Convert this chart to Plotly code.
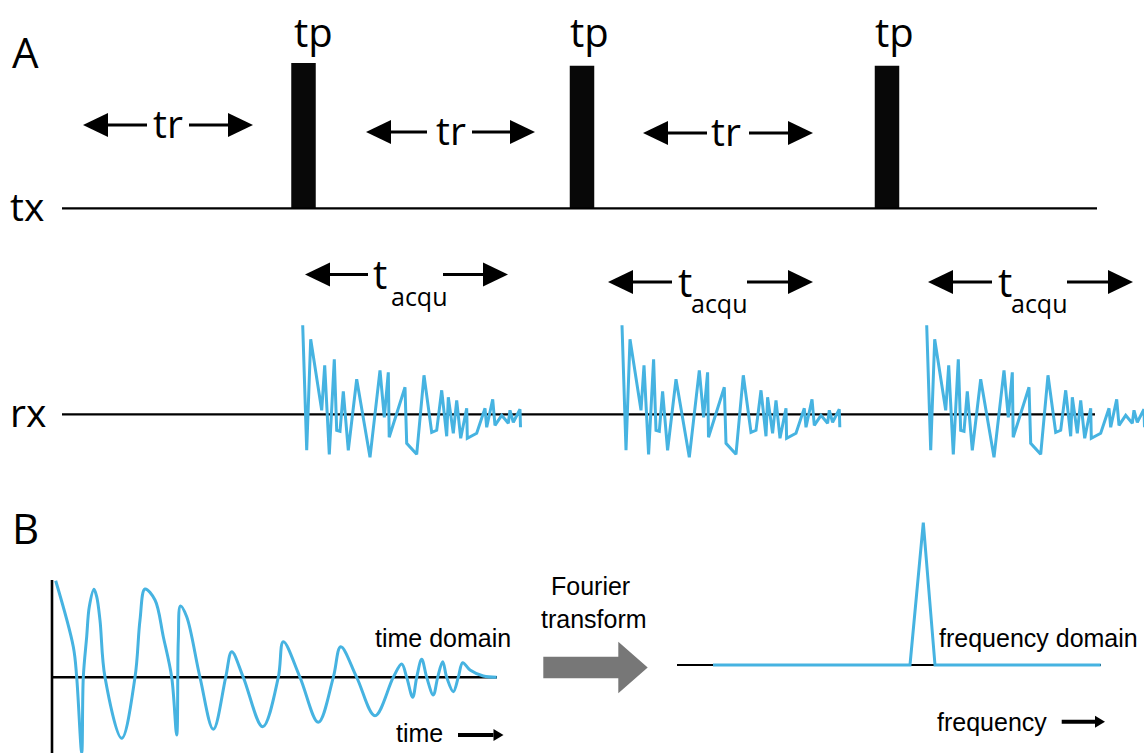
import plotly.graph_objects as go

W, H = 1144, 753
BLUE = "#46b3e1"
BLACK = "#000000"
GRAY = "#777777"
FONT_A = "Open Sans"
FONT_B = "Liberation Sans"

# ---------------- Part A: pulse sequence ----------------
tx_level = 208.3
rx_level = 414.3
baseline_start = 62.0
tx_end = 1097.0
rx_end = 1095.0

pulse_times = [303.5, 582.0, 887.0]
pulse_width = 24.5
pulse_heights = [145.3, 142.5, 142.5]
tp_label_x = [313.0, 589.0, 894.0]

# repetition-time spans: left tip, left shaft end, label x, right shaft start, right tip, level
tr_left_tip = [83.0, 366.0, 643.0]
tr_left_end = [147.0, 427.0, 707.0]
tr_label_x = [168.0, 451.0, 726.0]
tr_right_start = [189.0, 472.0, 749.0]
tr_right_tip = [253.0, 535.0, 813.0]
tr_level = [125.0, 132.0, 133.0]

# acquisition spans
acq_left_tip = [305.0, 608.0, 928.0]
acq_left_end = [368.0, 672.0, 992.0]
acq_t_x = [380.0, 684.5, 1004.5]
acq_sub_x = [389.0, 689.0, 1009.0]
acq_right_start = [443.0, 747.0, 1067.0]
acq_right_tip = [508.0, 813.0, 1133.0]
acq_level = [274.5, 282.0, 282.0]

# free induction decay, sampled: time offset and amplitude
fid_t = [0, 4, 8, 19, 22, 26.6, 31.6, 34, 37.3, 40.6, 45.6, 54, 67.3, 77.3, 81.6,
         85.6, 86.5, 95.6, 102.3, 104, 114, 121.3, 129, 134, 139, 144, 145.6,
         150.6, 154, 158, 164, 164.6, 174, 182.3, 184, 190, 192.3, 199, 205.6,
         207.3, 210.6, 217.3, 217.8]
fid_a = [89, -36, 75, 4, 49, -40, 55, -16, -17, 23, -36, 35, -43, 44, -3,
         42, -23, 7, 27, -29, -40, 39, -18, -16, 24, -22, 17,
         -19, 14, -24, 6, -24, -19, 6, -13, 15, -11, -1, -9,
         4, -8, 5, -13]
fid_starts = [302.7, 622.0, 926.7]

# ---------------- Part B: time and frequency domain ----------------
td_origin_x = 52.0
td_origin_y = 677.3
td_axis_top = 580.0
td_axis_end = 497.0

td_time = [3.7, 21.3, 24.7, 29.7, 31.3, 34.7, 37.3, 42.0, 44.7, 48.0,
           53.0, 69.7, 83.0, 88.0, 93.0, 103.0, 111.3, 119.7, 124.7, 126.3,
           128.5, 134.7, 148.0, 161.3, 173.7, 179.7, 191.3, 210.7, 226.3, 231.3,
           248.0, 266.3, 281.3, 288.7, 304.7, 323.0, 341.3, 349.7, 354.7, 360.7,
           364.7, 369.7, 374.7, 381.3, 385.7, 390.7, 394.7, 401.3, 406.3, 410.7,
           418.0, 431.3, 444.7]
td_signal = [96.6, 30.6, 0, -75.4, 0, 40.6, 70.6, 88, 80.6, 57,
             0, -61, 0, 57.3, 88.3, 77.3, 40.6, 0, -57.7, 37,
             71.3, 60.6, 0, -52, 0, 25.6, 0, -49.4, 0, 35.6,
             0, -45, 0, 30.6, 0, -38.4, 0, 13.3, 0, -20,
             0, 18, 0, -17.7, 0, 15.6, 0, -14.4, 0, 14.6,
             7.3, 1.3, 0]

freq_axis_start = 677.0
freq_axis_end = 1101.0
freq_level = 665.0
freq = [713.0, 910.0, 923.3, 935.0, 1100.7]
magnitude = [0, 0, 142.3, 0, 0]

fig = go.Figure()


def add_line(xs, ys, color=BLACK, width=2.2, shape="linear"):
    fig.add_trace(go.Scatter(x=xs, y=ys, mode="lines",
                             line=dict(color=color, width=width, shape=shape),
                             hoverinfo="skip"))


def add_arrow(x_from, x_to, y, head_len=25, head_half=12, width=3, color=BLACK):
    direction = 1 if x_to > x_from else -1
    base = x_to - direction * head_len
    add_line([x_from, base], [y, y], color, width)
    fig.add_trace(go.Scatter(x=[x_to, base, base, x_to],
                             y=[y, y - head_half, y + head_half, y],
                             mode="lines", fill="toself", fillcolor=color,
                             line=dict(width=0, color=color), hoverinfo="skip"))


def label(x, y, text, size, font=FONT_A, xanchor="center", yanchor="middle"):
    fig.add_annotation(x=x, y=y, text=text, showarrow=False, xanchor=xanchor,
                       yanchor=yanchor,
                       font=dict(family=font, size=size, color=BLACK))


# transmit and receive baselines
add_line([baseline_start, tx_end], [tx_level, tx_level])
add_line([baseline_start, rx_end], [rx_level, rx_level])

# RF pulses
fig.add_trace(go.Bar(x=pulse_times, y=[-h for h in pulse_heights],
                     base=[tx_level] * len(pulse_times), width=pulse_width,
                     marker=dict(color="#080808", line=dict(width=0)),
                     hoverinfo="skip"))
for x in tp_label_x:
    label(x, 31, "tp", 40)

# repetition-time arrows
for i in range(len(tr_level)):
    add_arrow(tr_left_end[i], tr_left_tip[i], tr_level[i])
    add_arrow(tr_right_start[i], tr_right_tip[i], tr_level[i])
    label(tr_label_x[i], tr_level[i] - 3, "tr", 39)

# acquisition arrows
for i in range(len(acq_level)):
    add_arrow(acq_left_end[i], acq_left_tip[i], acq_level[i])
    add_arrow(acq_right_start[i], acq_right_tip[i], acq_level[i])
    label(acq_t_x[i], acq_level[i] - 1, "t", 40)
    label(acq_sub_x[i], acq_level[i] + 21, "acqu", 25, xanchor="left")

# received signals
for s in fid_starts:
    add_line([s + t for t in fid_t], [rx_level - a for a in fid_a], BLUE, 3)

label(25, 51, "A", 42)
label(27, 205, "tx", 39)
label(28, 411, "rx", 39)
label(25, 527, "B", 42)

# time-domain panel
add_line([td_origin_x, td_origin_x], [td_axis_top, H + 5], BLACK, 2.6)
add_line([td_origin_x, td_axis_end], [td_origin_y, td_origin_y], BLACK, 2.6)
add_line([td_origin_x + t for t in td_time],
         [td_origin_y - v for v in td_signal], BLUE, 3, shape="spline")
label(373, 638, "time domain", 25, FONT_B, xanchor="left")
label(394, 733, "time", 25, FONT_B, xanchor="left")
add_arrow(458, 503.5, 735, head_len=10, head_half=6, width=4)

# Fourier transform arrow
fig.add_trace(go.Scatter(
    x=[543.3, 618.3, 618.3, 647.7, 618.3, 618.3, 543.3, 543.3],
    y=[656.7, 656.7, 641.7, 667.5, 693.3, 678.3, 678.3, 656.7],
    mode="lines", fill="toself", fillcolor=GRAY, line=dict(width=0, color=GRAY),
    hoverinfo="skip"))
label(590, 586, "Fourier", 25, FONT_B)
label(594, 619, "transform", 25, FONT_B)

# frequency-domain panel
add_line([freq_axis_start, freq_axis_end], [freq_level, freq_level], BLACK, 2.2)
add_line(freq, [freq_level - m for m in magnitude], BLUE, 3)
label(937, 638, "frequency domain", 25, FONT_B, xanchor="left")
label(935, 722, "frequency", 25, FONT_B, xanchor="left")
add_arrow(1061.7, 1105, 721.7, head_len=10, head_half=6, width=4)

fig.update_layout(
    width=W, height=H, margin=dict(l=0, r=0, t=0, b=0),
    paper_bgcolor="white", plot_bgcolor="white", showlegend=False,
    hovermode=False, barmode="overlay",
    xaxis=dict(range=[0, W], visible=False, fixedrange=True),
    yaxis=dict(range=[H, 0], visible=False, fixedrange=True),
)

fig.write_html("out.html", config={"displayModeBar": False})
